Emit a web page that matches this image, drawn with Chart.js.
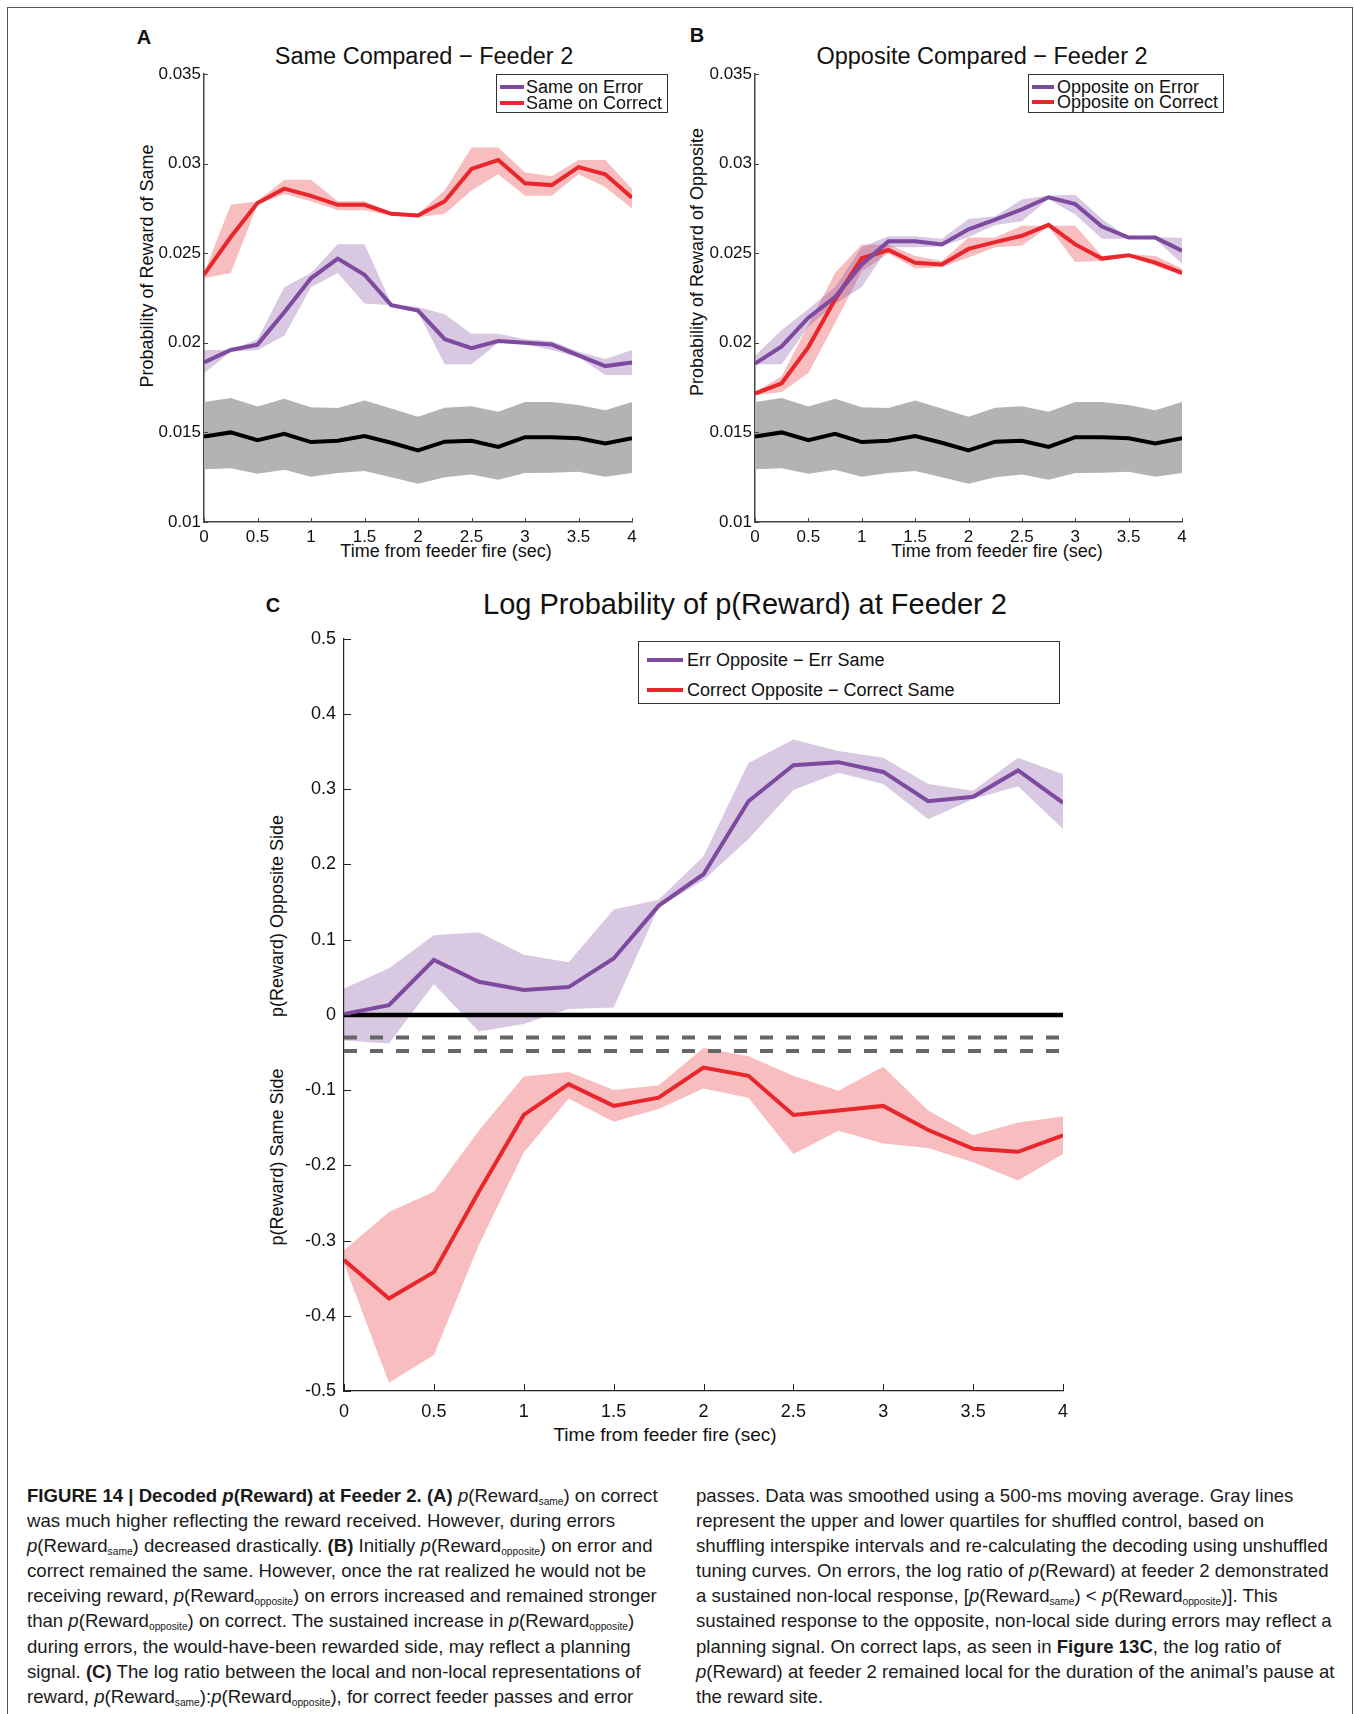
<!DOCTYPE html>
<html>
<head>
<meta charset="utf-8">
<script src="https://cdn.jsdelivr.net/npm/chart.js@4.4.1/dist/chart.umd.min.js"></script>
<style>
body { margin: 0; background: #fff; }
#page { position: relative; width: 1354px; height: 1714px; overflow: hidden; font-family: 'Liberation Sans', Arial, sans-serif; color: #111; }
.frame { position: absolute; left: 7px; top: 7px; width: 1346px; height: 1760px; border: 1.5px solid #555; box-sizing: border-box; }
.cv { position: absolute; }
.lbl { position: absolute; white-space: nowrap; transform: translate(-50%, -50%); }
.rot { transform: translate(-50%, -50%) rotate(-90deg); }
.narrow { font-family: 'Liberation Sans Narrow', 'Arial Narrow', 'Nimbus Sans Narrow', sans-serif; }
.letter { font-weight: bold; font-size: 20px; }
.legend { position: absolute; border: 1.5px solid #333; background: #fff; box-sizing: border-box; }
.legend .swatch { position: absolute; height: 4px; }
.legend .txt { position: absolute; transform: translateY(-50%); white-space: nowrap; }
.cap { position: absolute; top: 1483px; font-family: 'Liberation Sans Narrow', 'Arial Narrow', sans-serif; font-size: 18.6px; line-height: 25.1px; color: #1a1a1a; white-space: nowrap; }
.cap sub { font-size: 0.55em; vertical-align: -0.3em; line-height: 0; }
</style>
</head>
<body>
<div id="page">
  <div class="frame"></div>

  <div class="lbl letter" style="left:144px;top:37px">A</div>
  <div class="lbl" style="left:424px;top:56px;font-size:23.5px">Same Compared − Feeder 2</div>
  <div class="lbl rot" style="left:147px;top:266px;font-size:18px">Probability of Reward of Same</div>
  <div class="lbl" style="left:446px;top:551px;font-size:18px">Time from feeder fire (sec)</div>
  <div class="cv" style="left:134px;top:60px;width:510px;height:500px"><canvas id="chartA" width="510" height="500"></canvas></div>
  <div class="legend" id="legA" style="left:496px;top:74px;width:172px;height:39px"></div>

  <div class="lbl letter" style="left:697px;top:35px">B</div>
  <div class="lbl" style="left:982px;top:56px;font-size:23.5px">Opposite Compared − Feeder 2</div>
  <div class="lbl rot" style="left:697px;top:262px;font-size:18px">Probability of Reward of Opposite</div>
  <div class="lbl" style="left:997px;top:551px;font-size:18px">Time from feeder fire (sec)</div>
  <div class="cv" style="left:685px;top:60px;width:510px;height:500px"><canvas id="chartB" width="510" height="500"></canvas></div>
  <div class="legend" id="legB" style="left:1028px;top:74px;width:196px;height:39px"></div>

  <div class="lbl letter" style="left:273px;top:605px">C</div>
  <div class="lbl narrow" style="left:745px;top:604px;font-size:29px">Log Probability of p(Reward) at Feeder 2</div>
  <div class="lbl rot" style="left:277px;top:916px;font-size:18px">p(Reward) Opposite Side</div>
  <div class="lbl rot" style="left:277px;top:1157px;font-size:18px">p(Reward) Same Side</div>
  <div class="lbl narrow" style="left:665px;top:1435px;font-size:19px">Time from feeder fire (sec)</div>
  <div class="cv" style="left:290px;top:620px;width:790px;height:810px"><canvas id="chartC" width="790" height="810"></canvas></div>
  <div class="legend narrow" id="legC" style="left:638px;top:641px;width:422px;height:63px"></div>

  <div class="cap" style="left:27px">
    <b>FIGURE 14 | Decoded <i>p</i>(Reward) at Feeder 2. (A)</b> <i>p</i>(Reward<sub>same</sub>) on correct<br>
    was much higher reflecting the reward received. However, during errors<br>
    <i>p</i>(Reward<sub>same</sub>) decreased drastically. <b>(B)</b> Initially <i>p</i>(Reward<sub>opposite</sub>) on error and<br>
    correct remained the same. However, once the rat realized he would not be<br>
    receiving reward, <i>p</i>(Reward<sub>opposite</sub>) on errors increased and remained stronger<br>
    than <i>p</i>(Reward<sub>opposite</sub>) on correct. The sustained increase in <i>p</i>(Reward<sub>opposite</sub>)<br>
    during errors, the would-have-been rewarded side, may reflect a planning<br>
    signal. <b>(C)</b> The log ratio between the local and non-local representations of<br>
    reward, <i>p</i>(Reward<sub>same</sub>):<i>p</i>(Reward<sub>opposite</sub>), for correct feeder passes and error
  </div>
  <div class="cap" style="left:696px">
    passes. Data was smoothed using a 500-ms moving average. Gray lines<br>
    represent the upper and lower quartiles for shuffled control, based on<br>
    shuffling interspike intervals and re-calculating the decoding using unshuffled<br>
    tuning curves. On errors, the log ratio of <i>p</i>(Reward) at feeder 2 demonstrated<br>
    a sustained non-local response, [<i>p</i>(Reward<sub>same</sub>) &lt; <i>p</i>(Reward<sub>opposite</sub>)]. This<br>
    sustained response to the opposite, non-local side during errors may reflect a<br>
    planning signal. On correct laps, as seen in <b>Figure 13C</b>, the log ratio of<br>
    <i>p</i>(Reward) at feeder 2 remained local for the duration of the animal’s pause at<br>
    the reward site.
  </div>
</div>

<script>
const times = [0, 0.25, 0.5, 0.75, 1, 1.25, 1.5, 1.75, 2, 2.25, 2.5, 2.75, 3, 3.25, 3.5, 3.75, 4]
const xTicks = [0, 0.5, 1, 1.5, 2, 2.5, 3, 3.5, 4]
const yTicksAB = [0.01, 0.015, 0.02, 0.025, 0.03, 0.035]
const yTicksC = [-0.5, -0.4, -0.3, -0.2, -0.1, 0, 0.1, 0.2, 0.3, 0.4, 0.5]

// panel A
const sameCorrect = [0.0238, 0.0259, 0.0278, 0.0286, 0.0282, 0.0277, 0.0277, 0.0272, 0.0271, 0.0279, 0.0297, 0.0302, 0.0289, 0.0288, 0.0298, 0.0294, 0.0281]
const sameCorrectHi = [0.0239, 0.0277, 0.0279, 0.0291, 0.0291, 0.0279, 0.0279, 0.0273, 0.0272, 0.0285, 0.0309, 0.0309, 0.0295, 0.0293, 0.0302, 0.0302, 0.0286]
const sameCorrectLo = [0.0236, 0.0239, 0.0277, 0.0283, 0.0279, 0.0274, 0.0274, 0.0271, 0.0270, 0.0272, 0.0285, 0.0294, 0.0282, 0.0282, 0.0294, 0.0287, 0.0275]
const sameError = [0.0189, 0.0196, 0.0199, 0.0217, 0.0236, 0.0247, 0.0238, 0.0221, 0.0218, 0.0202, 0.0197, 0.0201, 0.0200, 0.0199, 0.0193, 0.0187, 0.0189]
const sameErrorHi = [0.0196, 0.0196, 0.0202, 0.0231, 0.0239, 0.0255, 0.0255, 0.0222, 0.0220, 0.0216, 0.0205, 0.0205, 0.0202, 0.0201, 0.0195, 0.0191, 0.0196]
const sameErrorLo = [0.0183, 0.0195, 0.0196, 0.0204, 0.0231, 0.0239, 0.0222, 0.0221, 0.0217, 0.0188, 0.0188, 0.0200, 0.0199, 0.0196, 0.0192, 0.0182, 0.0182]

// shuffled control (A and B)
const shuffled = [0.01477, 0.0150, 0.01457, 0.01492, 0.01446, 0.01453, 0.0148, 0.01442, 0.0140, 0.01448, 0.01453, 0.01419, 0.01473, 0.01473, 0.01467, 0.01438, 0.01467]
const shuffledHi = [0.01669, 0.01692, 0.01644, 0.01688, 0.0164, 0.01636, 0.01678, 0.01634, 0.01588, 0.01638, 0.01646, 0.01615, 0.01669, 0.01669, 0.01653, 0.01624, 0.01669]
const shuffledLo = [0.01294, 0.0130, 0.01269, 0.01292, 0.01252, 0.01273, 0.01284, 0.0125, 0.01213, 0.0125, 0.01265, 0.01236, 0.01273, 0.01275, 0.01281, 0.01252, 0.01273]

// panel B
const oppError = [0.01884, 0.0198, 0.0214, 0.02255, 0.02437, 0.02566, 0.02566, 0.02549, 0.02633, 0.02687, 0.02745, 0.02812, 0.02774, 0.02649, 0.02587, 0.02587, 0.02514]
const oppErrorHi = [0.01928, 0.02072, 0.02188, 0.02312, 0.02533, 0.02595, 0.02595, 0.02581, 0.02691, 0.02706, 0.02799, 0.02822, 0.02826, 0.02691, 0.02587, 0.0259, 0.02585]
const oppErrorLo = [0.0188, 0.0188, 0.02091, 0.02216, 0.02312, 0.02533, 0.02533, 0.02537, 0.02591, 0.02658, 0.02678, 0.02802, 0.02716, 0.02581, 0.02581, 0.02578, 0.02441]
const oppCorrect = [0.01717, 0.01774, 0.01976, 0.02241, 0.02472, 0.02518, 0.02447, 0.02437, 0.02524, 0.02562, 0.02597, 0.02658, 0.02549, 0.0247, 0.02489, 0.02447, 0.0239]
const oppCorrectHi = [0.01726, 0.01813, 0.02101, 0.0239, 0.02549, 0.02549, 0.02485, 0.02456, 0.02587, 0.02587, 0.02653, 0.02653, 0.02653, 0.02485, 0.02495, 0.02485, 0.02414]
const oppCorrectLo = [0.01707, 0.01726, 0.01832, 0.02111, 0.02399, 0.02499, 0.02414, 0.02422, 0.02476, 0.02533, 0.02543, 0.02648, 0.02451, 0.02456, 0.0248, 0.02428, 0.02376]

// panel C
const errLog = [0.001, 0.013, 0.073, 0.044, 0.033, 0.037, 0.075, 0.145, 0.187, 0.284, 0.332, 0.336, 0.323, 0.284, 0.290, 0.325, 0.282]
const errLogHi = [0.035, 0.062, 0.106, 0.110, 0.080, 0.070, 0.140, 0.153, 0.211, 0.335, 0.366, 0.351, 0.342, 0.307, 0.298, 0.342, 0.320]
const errLogLo = [-0.034, -0.038, 0.041, -0.022, -0.012, 0.008, 0.010, 0.143, 0.179, 0.234, 0.299, 0.322, 0.307, 0.260, 0.287, 0.304, 0.247]
const corLog = [-0.326, -0.377, -0.342, -0.235, -0.133, -0.092, -0.121, -0.110, -0.070, -0.081, -0.133, -0.127, -0.121, -0.153, -0.178, -0.182, -0.160]
const corLogHi = [-0.313, -0.262, -0.235, -0.154, -0.082, -0.076, -0.100, -0.094, -0.044, -0.055, -0.081, -0.101, -0.069, -0.127, -0.160, -0.143, -0.135]
const corLogLo = [-0.330, -0.489, -0.452, -0.306, -0.183, -0.111, -0.142, -0.125, -0.098, -0.110, -0.185, -0.154, -0.171, -0.177, -0.196, -0.220, -0.185]
const edgeTimes = [0, 4]
const zeroLine = [0, 0]
const quartileUpper = [-0.03, -0.03]
const quartileLower = [-0.048, -0.048]

const purple = '#7d4a9f'
const red = '#e8262b'
const purpleBand = 'rgba(125,74,159,0.3)'
const redBand = 'rgba(232,38,43,0.3)'
const grayBand = '#b3b3b3'
const narrowFont = "'Liberation Sans Narrow', 'Arial Narrow', 'Nimbus Sans Narrow', sans-serif"
const sansFont = "'Liberation Sans', Arial, sans-serif"

const pts = (xs, ys) => xs.map((x, i) => ({ x: x, y: ys[i] }))

const line = (label, ys, color, width) => ({
  label: label, data: pts(times, ys), borderColor: color, borderWidth: width || 4,
  pointRadius: 0, fill: false, tension: 0,
})
const band = (hi, lo, color) => [
  { data: pts(times, hi), borderColor: 'rgba(0,0,0,0)', borderWidth: 1, pointRadius: 0, fill: '+1', backgroundColor: color },
  { data: pts(times, lo), borderColor: 'rgba(0,0,0,0)', borderWidth: 1, pointRadius: 0, fill: false },
]

// matlab style ticks pointing into the plot
const innerTicks = {
  id: 'innerTicks',
  afterDraw(chart, args, opts) {
    const { ctx, chartArea: a, scales: { x, y } } = chart
    ctx.save()
    ctx.strokeStyle = opts.color
    ctx.lineWidth = 1
    x.ticks.forEach(t => {
      const px = Math.round(x.getPixelForValue(t.value)) + 0.5
      ctx.beginPath(); ctx.moveTo(px, a.bottom); ctx.lineTo(px, a.bottom - opts.len); ctx.stroke()
    })
    y.ticks.forEach(t => {
      const py = Math.round(y.getPixelForValue(t.value)) + 0.5
      ctx.beginPath(); ctx.moveTo(a.left, py); ctx.lineTo(a.left + opts.len, py); ctx.stroke()
    })
    ctx.restore()
  }
}

function makeChart(id, o) {
  return new Chart(document.getElementById(id), {
    type: 'line',
    data: { datasets: o.datasets },
    plugins: [innerTicks],
    options: {
      responsive: false,
      animation: false,
      events: [],
      layout: { padding: o.padding },
      plugins: {
        legend: { display: false },
        tooltip: { enabled: false },
        filler: { drawTime: 'beforeDatasetsDraw' },
        innerTicks: { len: o.tickLen, color: o.axisColor },
      },
      scales: {
        x: {
          type: 'linear', min: 0, max: 4,
          afterBuildTicks: s => { s.ticks = xTicks.map(v => ({ value: v })) },
          afterFit: s => { s.height = o.xHeight },
          grid: { drawOnChartArea: false, drawTicks: false },
          border: { display: true, color: o.axisColor, width: o.axisWidth },
          ticks: { padding: o.xPad, color: '#111', font: o.tickFont, callback: v => String(v), maxRotation: 0 },
        },
        y: {
          type: 'linear', min: o.yTicks[0], max: o.yTicks[o.yTicks.length - 1],
          afterBuildTicks: s => { s.ticks = o.yTicks.map(v => ({ value: v })) },
          afterFit: s => { s.width = o.yWidth },
          grid: { drawOnChartArea: false, drawTicks: false },
          border: { display: true, color: o.axisColor, width: o.axisWidth },
          ticks: { padding: o.yPad, color: '#111', font: o.tickFont, callback: v => String(v) },
        },
      },
    },
  })
}

function buildLegend(elId, chart, o) {
  const el = document.getElementById(elId)
  chart.data.datasets.filter(d => d.label).forEach((d, i) => {
    const cy = o.first + i * o.step
    const sw = document.createElement('div')
    sw.className = 'swatch'
    sw.style.cssText = `left:${o.swLeft}px;width:${o.swWidth}px;top:${cy - 2}px;background:${d.borderColor}`
    const tx = document.createElement('div')
    tx.className = 'txt'
    tx.style.cssText = `left:${o.txLeft}px;top:${cy}px;font-size:${o.size}px`
    tx.textContent = d.label
    el.appendChild(sw)
    el.appendChild(tx)
  })
}

const abCommon = {
  yTicks: yTicksAB, padding: { left: 0, right: 12, top: 14, bottom: 0 },
  yWidth: 70, xHeight: 38, xPad: 5, yPad: 3, tickLen: 4,
  axisColor: '#444', axisWidth: 1.5, tickFont: { family: sansFont, size: 17 },
}

const chartA = makeChart('chartA', Object.assign({}, abCommon, {
  datasets: [
    line('Same on Error', sameError, purple),
    line('Same on Correct', sameCorrect, red),
    line(null, shuffled, '#000'),
    ...band(sameErrorHi, sameErrorLo, purpleBand),
    ...band(sameCorrectHi, sameCorrectLo, redBand),
    ...band(shuffledHi, shuffledLo, grayBand),
  ],
}))

const chartB = makeChart('chartB', Object.assign({}, abCommon, {
  padding: { left: 0, right: 13, top: 14, bottom: 0 },
  datasets: [
    line('Opposite on Error', oppError, purple),
    line('Opposite on Correct', oppCorrect, red),
    line(null, shuffled, '#000'),
    ...band(oppErrorHi, oppErrorLo, purpleBand),
    ...band(oppCorrectHi, oppCorrectLo, redBand),
    ...band(shuffledHi, shuffledLo, grayBand),
  ],
}))

const chartC = makeChart('chartC', {
  yTicks: yTicksC, padding: { left: 0, right: 17, top: 14, bottom: 0 },
  yWidth: 54, xHeight: 39, xPad: 10, yPad: 8, tickLen: 7,
  axisColor: '#222', axisWidth: 1.2, tickFont: { family: narrowFont, size: 18 },
  datasets: [
    line('Err Opposite − Err Same', errLog, purple),
    line('Correct Opposite − Correct Same', corLog, red),
    { data: pts(edgeTimes, zeroLine), borderColor: '#000', borderWidth: 4.5, pointRadius: 0, fill: false },
    { data: pts(edgeTimes, quartileUpper), borderColor: '#666', borderWidth: 4, borderDash: [13, 13], pointRadius: 0, fill: false },
    { data: pts(edgeTimes, quartileLower), borderColor: '#666', borderWidth: 4, borderDash: [13, 13], pointRadius: 0, fill: false },
    ...band(errLogHi, errLogLo, purpleBand),
    ...band(corLogHi, corLogLo, redBand),
  ],
})

buildLegend('legA', chartA, { first: 12, step: 16, swLeft: 3, swWidth: 24, txLeft: 29, size: 18 })
buildLegend('legB', chartB, { first: 12, step: 15, swLeft: 3, swWidth: 22, txLeft: 28, size: 18 })
buildLegend('legC', chartC, { first: 18, step: 30, swLeft: 8, swWidth: 36, txLeft: 48, size: 18 })
</script>
</body>
</html>
